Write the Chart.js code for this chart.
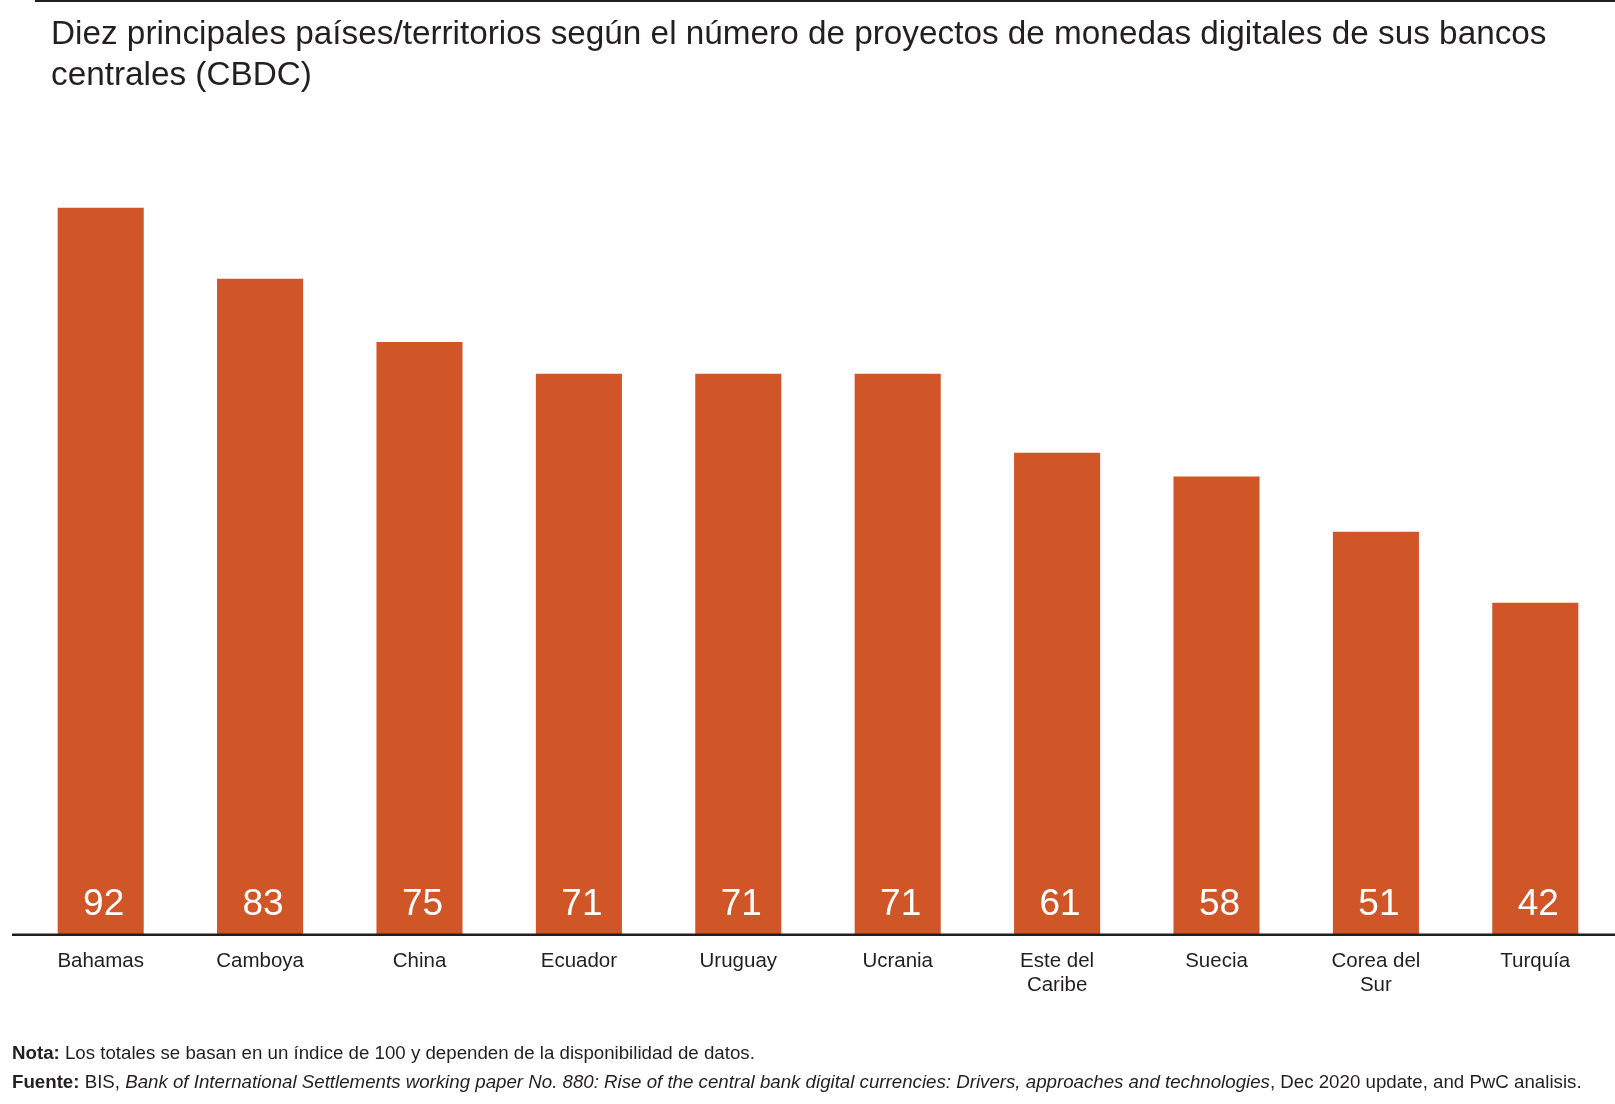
<!DOCTYPE html>
<html>
<head>
<meta charset="utf-8">
<script src="https://cdn.jsdelivr.net/npm/chart.js@4.4.0/dist/chart.umd.min.js"></script>
<style>
  body { margin: 0; background: #fff; font-family: "Liberation Sans", Arial, sans-serif; color: #231f20; }
  #wrap { position: relative; width: 1615px; height: 1104px; overflow: hidden; }
  #rule { position: absolute; left: 35px; top: 0; width: 1580px; height: 2px; background: #231f20; }
  #title { position: absolute; left: 51px; top: 12px; font-size: 33.3px; line-height: 41px; }
  #notes { position: absolute; left: 12px; top: 1038px; font-size: 18.7px; line-height: 29px; }
  canvas { position: absolute; left: 0; top: 0; }
</style>
</head>
<body>
<div id="wrap">
  <div id="rule"></div>
  <canvas id="grafico" width="1615" height="1104"></canvas>
  <div id="title">Diez principales países/territorios según el número de proyectos de monedas digitales de sus bancos<br>centrales (CBDC)</div>
  <div id="notes">
    <div><b>Nota:</b> Los totales se basan en un índice de 100 y dependen de la disponibilidad de datos.</div>
    <div><b>Fuente:</b> BIS, <i>Bank of International Settlements working paper No. 880: Rise of the central bank digital currencies: Drivers, approaches and technologies</i>, Dec 2020 update, and PwC analisis.</div>
  </div>
</div>
<script>
let paises = ['Bahamas', 'Camboya', 'China', 'Ecuador', 'Uruguay', 'Ucrania', ['Este del', 'Caribe'], 'Suecia', ['Corea del', 'Sur'], 'Turquía'];
let proyectos = [92, 83, 75, 71, 71, 71, 61, 58, 51, 42];

let naranja = '#d15627';

// linea base y valores dentro de las barras
let extras = {
    id: 'extras',
    afterDatasetsDraw(chart) {
        let ctx = chart.ctx;
        let y0 = chart.scales.y.getPixelForValue(0);
        ctx.save();
        ctx.strokeStyle = '#231f20';
        ctx.lineWidth = 2.5;
        ctx.beginPath();
        ctx.moveTo(12, y0);
        ctx.lineTo(chart.width, y0);
        ctx.stroke();

        ctx.fillStyle = '#ffffff';
        ctx.font = '37px "Liberation Sans", Arial, sans-serif';
        ctx.textAlign = 'center';
        ctx.textBaseline = 'middle';
        let meta = chart.getDatasetMeta(0);
        meta.data.forEach(function (bar, i) {
            ctx.fillText(proyectos[i], bar.x + 3, y0 - 30);
        });
        ctx.restore();
    }
};

let grafico = new Chart(document.getElementById('grafico'), {
    type: 'bar',
    data: {
        labels: paises,
        datasets: [{
            data: proyectos,
            backgroundColor: naranja,
            barPercentage: 0.9,
            categoryPercentage: 0.6
        }]
    },
    options: {
        responsive: false,
        animation: false,
        layout: { padding: { left: 21, right: 0, top: 144.5, bottom: 100 } },
        plugins: { legend: { display: false }, tooltip: { enabled: false } },
        scales: {
            x: {
                grid: { display: false },
                border: { display: false },
                ticks: {
                    color: '#231f20',
                    font: { family: '"Liberation Sans", Arial, sans-serif', size: 20.5 },
                    padding: 6,
                    maxRotation: 0,
                    autoSkip: false
                }
            },
            y: {
                display: false,
                min: 0,
                max: 100
            }
        }
    },
    plugins: [extras]
});
</script>
</body>
</html>
